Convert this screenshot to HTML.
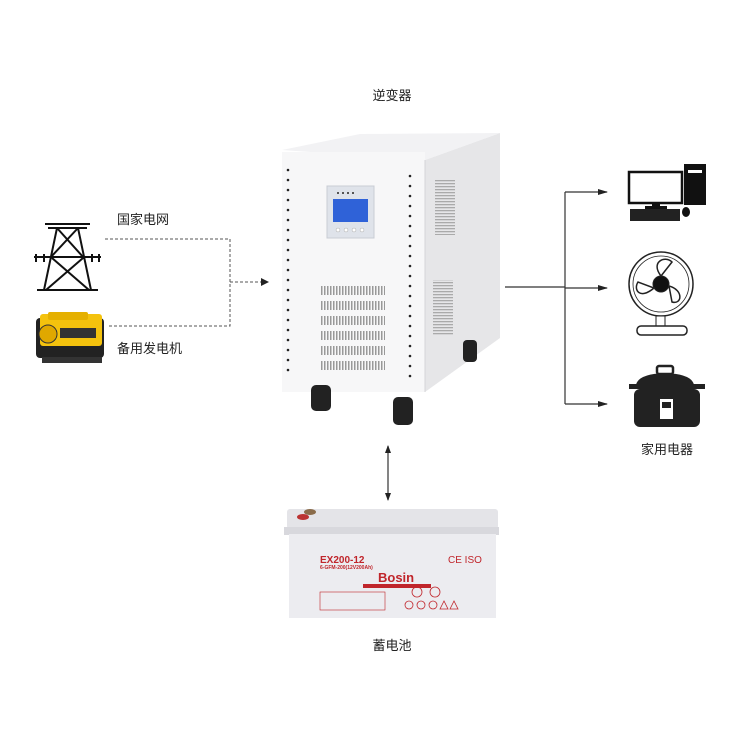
<!DOCTYPE html>
<html><head><meta charset="utf-8"><style>
html,body{margin:0;padding:0;background:#fff;width:750px;height:750px;overflow:hidden}
svg text{font-family:"Liberation Sans","Noto Sans CJK SC",sans-serif}
</style></head><body>
<svg width="750" height="750" viewBox="0 0 750 750" xmlns="http://www.w3.org/2000/svg">
<defs>
<marker id="ah" markerWidth="8" markerHeight="8" refX="7" refY="4" orient="auto" markerUnits="userSpaceOnUse"><path d="M0,0 L8,4 L0,8 z" fill="#222"/></marker>
<marker id="ah2" markerWidth="10" markerHeight="8" refX="9" refY="4" orient="auto" markerUnits="userSpaceOnUse"><path d="M0,1 L10,4 L0,7 z" fill="#222"/></marker>
<marker id="as" markerWidth="8" markerHeight="8" refX="7" refY="4" orient="auto-start-reverse" markerUnits="userSpaceOnUse"><path d="M0,1 L8,4 L0,7 z" fill="#222"/></marker>
<pattern id="vs" width="3" height="4" patternUnits="userSpaceOnUse"><rect width="1.5" height="4" fill="#999"/></pattern>
<pattern id="hs" width="4" height="3" patternUnits="userSpaceOnUse"><rect width="4" height="1.3" fill="#aaa"/></pattern>
</defs>
<text x="392" y="100" font-size="13" text-anchor="middle" fill="#222">逆变器</text>
<text x="117" y="224" font-size="13" fill="#222">国家电网</text>
<text x="117" y="353" font-size="13" fill="#222">备用发电机</text>
<text x="667" y="454" font-size="13" text-anchor="middle" fill="#222">家用电器</text>
<text x="392" y="650" font-size="13" text-anchor="middle" fill="#222">蓄电池</text>

<g stroke="#555" stroke-width="1" stroke-dasharray="3,2" fill="none">
<path d="M105,239 H230 V326 H109"/>
<path d="M230,282 H268" marker-end="url(#ah)"/>
</g>

<g stroke="#111" stroke-width="2" fill="none">
<path d="M45,224 H90 M48,228 H87"/>
<path d="M57,228 L44,290 M78,228 L91,290 M37,290 H98"/>
<path d="M57,228 L84,258 M78,228 L50,258 M52,258 L89,290 M83,258 L46,290"/>
<path d="M34,257 H101 M36,254 V262 M44,254 V262 M92,254 V262 M99,254 V262"/>
</g>
<g>
<rect x="36" y="318" width="68" height="40" rx="4" fill="#222"/>
<rect x="40" y="314" width="62" height="32" rx="3" fill="#f4c20d"/>
<rect x="48" y="312" width="40" height="8" rx="2" fill="#e5b000"/>
<circle cx="48" cy="334" r="9" fill="#e0a800" stroke="#333"/>
<rect x="60" y="328" width="36" height="10" fill="#333"/>
<rect x="42" y="357" width="60" height="6" fill="#333"/>
</g>

<g>
<polygon points="425,160 500,133 500,338 425,392" fill="#e6e6e8"/>
<polygon points="282,150 360,134 500,133 425,160" fill="#f2f2f4"/>
<rect x="282" y="152" width="143" height="240" fill="#f7f7f8"/>
<line x1="425" y1="160" x2="425" y2="392" stroke="#d4d4d8"/>
<g fill="#222">
<circle cx="288" cy="170" r="1.3"/><circle cx="288" cy="180" r="1.3"/><circle cx="288" cy="190" r="1.3"/><circle cx="288" cy="200" r="1.3"/><circle cx="288" cy="210" r="1.3"/><circle cx="288" cy="220" r="1.3"/><circle cx="288" cy="230" r="1.3"/><circle cx="288" cy="240" r="1.3"/><circle cx="288" cy="250" r="1.3"/><circle cx="288" cy="260" r="1.3"/><circle cx="288" cy="270" r="1.3"/><circle cx="288" cy="280" r="1.3"/><circle cx="288" cy="290" r="1.3"/><circle cx="288" cy="300" r="1.3"/><circle cx="288" cy="310" r="1.3"/><circle cx="288" cy="320" r="1.3"/><circle cx="288" cy="330" r="1.3"/><circle cx="288" cy="340" r="1.3"/><circle cx="288" cy="350" r="1.3"/><circle cx="288" cy="360" r="1.3"/><circle cx="288" cy="370" r="1.3"/>
<circle cx="410" cy="176" r="1.3"/><circle cx="410" cy="186" r="1.3"/><circle cx="410" cy="196" r="1.3"/><circle cx="410" cy="206" r="1.3"/><circle cx="410" cy="216" r="1.3"/><circle cx="410" cy="226" r="1.3"/><circle cx="410" cy="236" r="1.3"/><circle cx="410" cy="246" r="1.3"/><circle cx="410" cy="256" r="1.3"/><circle cx="410" cy="266" r="1.3"/><circle cx="410" cy="276" r="1.3"/><circle cx="410" cy="286" r="1.3"/><circle cx="410" cy="296" r="1.3"/><circle cx="410" cy="306" r="1.3"/><circle cx="410" cy="316" r="1.3"/><circle cx="410" cy="326" r="1.3"/><circle cx="410" cy="336" r="1.3"/><circle cx="410" cy="346" r="1.3"/><circle cx="410" cy="356" r="1.3"/><circle cx="410" cy="366" r="1.3"/><circle cx="410" cy="376" r="1.3"/>
</g>
<rect x="327" y="186" width="47" height="52" fill="#dfe3ea" stroke="#c8ccd4"/>
<rect x="333" y="199" width="35" height="23" fill="#2f62d8"/>
<g fill="#555"><rect x="337" y="192" width="2" height="2"/><rect x="342" y="192" width="2" height="2"/><rect x="347" y="192" width="2" height="2"/><rect x="352" y="192" width="2" height="2"/></g>
<g fill="#fff" stroke="#aaa" stroke-width=".5"><circle cx="338" cy="230" r="2"/><circle cx="346" cy="230" r="2"/><circle cx="354" cy="230" r="2"/><circle cx="362" cy="230" r="2"/></g>
<g fill="url(#vs)">
<rect x="320" y="286" width="65" height="9"/><rect x="320" y="301" width="65" height="9"/><rect x="320" y="316" width="65" height="9"/><rect x="320" y="331" width="65" height="9"/><rect x="320" y="346" width="65" height="9"/><rect x="320" y="361" width="65" height="9"/>
</g>
<g fill="url(#hs)"><rect x="435" y="180" width="20" height="55"/><rect x="433" y="280" width="20" height="55"/></g>
<rect x="311" y="385" width="20" height="26" rx="5" fill="#222"/>
<rect x="393" y="397" width="20" height="28" rx="5" fill="#222"/>
<rect x="463" y="340" width="14" height="22" rx="4" fill="#222"/>
</g>

<g stroke="#333" stroke-width="1.2" fill="none">
<path d="M505,287 H565"/>
<path d="M565,192 V404"/>
<path d="M565,192 H607" marker-end="url(#ah2)"/>
<path d="M565,288 H607" marker-end="url(#ah2)"/>
<path d="M565,404 H607" marker-end="url(#ah2)"/>
</g>

<g>
<rect x="629" y="172" width="53" height="31" fill="#fff" stroke="#111" stroke-width="2.5"/>
<rect x="652" y="203" width="8" height="4" fill="#111"/><rect x="645" y="206" width="22" height="3" fill="#111"/>
<rect x="684" y="164" width="22" height="41" fill="#111"/>
<rect x="688" y="170" width="14" height="3" fill="#fff"/>
<rect x="630" y="209" width="50" height="12" fill="#222"/>
<ellipse cx="686" cy="212" rx="4" ry="5" fill="#111"/>
</g>
<g stroke="#222" fill="none">
<circle cx="661" cy="284" r="32" stroke-width="1.5"/>
<circle cx="661" cy="284" r="28" stroke-width=".8"/>
<circle cx="661" cy="284" r="8" fill="#111"/>
<path d="M661,276 C650,262 665,255 672,262 Z M669,286 C684,290 682,305 672,302 Z M654,288 C640,300 633,290 638,282 Z" stroke-width="1.5"/>
<rect x="656" y="316" width="9" height="10" fill="#fff"/>
<rect x="637" y="326" width="50" height="9" rx="4" fill="#fff" stroke-width="1.5"/>
</g>
<g fill="#222">
<rect x="657" y="366" width="16" height="8" rx="2" fill="none" stroke="#222" stroke-width="2.5"/>
<path d="M636,385 Q638,374 665,373 Q692,374 694,385 Z"/>
<rect x="629" y="384" width="76" height="5"/>
<rect x="634" y="389" width="66" height="38" rx="6"/>
<rect x="660" y="399" width="13" height="20" fill="#fff"/>
<rect x="662" y="402" width="9" height="6" fill="#222"/>
</g>

<line x1="388" y1="446" x2="388" y2="500" stroke="#333" stroke-width="1.2" marker-start="url(#as)" marker-end="url(#as)"/>

<g>
<rect x="287" y="509" width="211" height="20" rx="3" fill="#e4e4e8"/>
<rect x="284" y="527" width="215" height="8" fill="#d8d8dd"/>
<rect x="289" y="534" width="207" height="84" fill="#ececf0"/>
<ellipse cx="310" cy="512" rx="6" ry="3" fill="#8a6b4a"/>
<ellipse cx="303" cy="517" rx="6" ry="3" fill="#b33"/>
<text x="320" y="563" font-size="10" font-weight="bold" fill="#c0252b">EX200-12</text>
<text x="320" y="569" font-size="5" font-weight="bold" fill="#c0252b">6-GFM-200(12V200Ah)</text>
<text x="448" y="563" font-size="10" fill="#c0252b">CE ISO</text>
<text x="378" y="582" font-size="13" font-weight="bold" fill="#c0252b">Bosin</text>
<rect x="363" y="584" width="68" height="4" fill="#c0252b"/>
<rect x="320" y="592" width="65" height="18" fill="none" stroke="#c0252b" stroke-width=".6"/>
<g fill="none" stroke="#c0252b" stroke-width=".8"><circle cx="409" cy="605" r="4"/><circle cx="421" cy="605" r="4"/><circle cx="433" cy="605" r="4"/><circle cx="417" cy="592" r="5"/><circle cx="435" cy="592" r="5"/><path d="M440,609 L444,601 L448,609 Z M450,609 L454,601 L458,609 Z"/></g>
</g>
</svg>
</body></html>
